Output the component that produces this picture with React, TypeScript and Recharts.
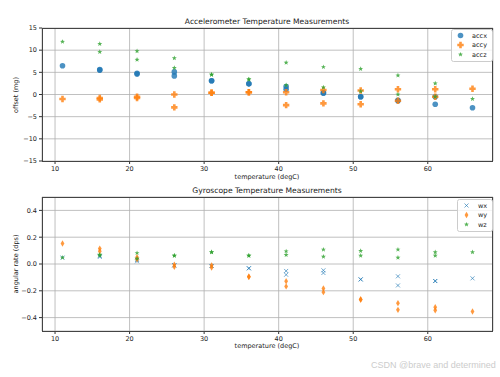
import React from 'react';
import { ScatterChart, Scatter, XAxis, YAxis, CartesianGrid } from 'recharts';

// measurement temperatures (two runs per step, except first/last)
const temps = [11, 16, 16, 21, 21, 26, 26, 31, 31, 36, 36, 41, 41, 46, 46, 51, 51, 56, 56, 61, 61, 66];

// accelerometer offsets (mg)
const accx = [6.5, 5.5, 5.6, 4.6, 4.8, 5.1, 4.2, 3.1, 3.1, 2.4, 2.4, 1.8, 1.2, 0.3, 0.4, -0.5, -0.5, -1.4, -1.3, -0.5, -2.2, -3.0];
const accy = [-1.0, -0.8, -1.1, -0.5, -0.8, 0.0, -2.9, 0.4, 0.4, 0.5, 0.5, 0.5, -2.4, 1.0, -2.0, 0.9, -2.2, 1.2, -1.4, 1.2, -0.5, 1.3];
const accz = [11.9, 11.4, 9.6, 9.8, 7.85, 8.2, 6.0, 4.5, 4.5, 3.4, 3.4, 7.2, 2.1, 6.2, 1.6, 5.8, 0.7, 4.3, 0.0, 2.5, -0.5, -1.0];

// gyroscope angular rate (dps)
const wx = [0.048, 0.053, 0.06, 0.02, 0.03, -0.01, -0.01, -0.015, -0.015, -0.032, -0.032, -0.052, -0.08, -0.047, -0.067, -0.115, -0.115, -0.092, -0.16, -0.127, -0.127, -0.107];
const wy = [0.153, 0.115, 0.095, 0.05, 0.035, -0.005, -0.02, -0.01, -0.027, -0.095, -0.095, -0.128, -0.167, -0.182, -0.21, -0.265, -0.265, -0.292, -0.342, -0.322, -0.345, -0.355];
const wz = [0.048, 0.065, 0.07, 0.082, 0.04, 0.063, 0.063, 0.088, 0.088, 0.063, 0.063, 0.095, 0.068, 0.108, 0.055, 0.098, 0.063, 0.108, 0.048, 0.088, 0.063, 0.088];

const xTicks = [10, 20, 30, 40, 50, 60];
const accTicks = [-15, -10, -5, 0, 5, 10, 15];
const gyroTicks = [-0.4, -0.2, 0.0, 0.2, 0.4];

const BLUE = '#1f77b4';
const ORANGE = '#ff7f0e';
const GREEN = '#2ca02c';
const FONT = '"DejaVu Sans", sans-serif';

const toPoints = (vals: number[]) => vals.map((v, i) => ({ t: temps[i], v }));

const minus = (s: string) => s.replace('-', '\u2212');

// marker shapes, roughly like matplotlib's o, P, *, x, d
const Circle = ({ cx, cy }: any) => <circle cx={cx} cy={cy} r={2.8} fill={BLUE} fillOpacity={0.8} />;

const Plus = ({ cx, cy }: any) => {
  const a = 1.3, b = 3.2;
  const d = `M${cx - a},${cy - b} H${cx + a} V${cy - a} H${cx + b} V${cy + a} H${cx + a} V${cy + b} H${cx - a} V${cy + a} H${cx - b} V${cy - a} H${cx - a} Z`;
  return <path d={d} fill={ORANGE} fillOpacity={0.8} />;
};

const starPath = (cx: number, cy: number, R: number) => {
  const r = R * 0.42;
  let d = '';
  for (let i = 0; i < 10; i++) {
    const rad = i % 2 === 0 ? R : r;
    const ang = -Math.PI / 2 + (i * Math.PI) / 5;
    d += (i === 0 ? 'M' : 'L') + (cx + rad * Math.cos(ang)).toFixed(2) + ',' + (cy + rad * Math.sin(ang)).toFixed(2);
  }
  return d + 'Z';
};

const Star = ({ cx, cy }: any) => <path d={starPath(cx, cy, 2.6)} fill={GREEN} fillOpacity={0.8} />;

const Cross = ({ cx, cy }: any) => (
  <path d={`M${cx - 2},${cy - 2} L${cx + 2},${cy + 2} M${cx - 2},${cy + 2} L${cx + 2},${cy - 2}`} stroke={BLUE} strokeWidth={0.8} strokeOpacity={0.8} />
);

const Diamond = ({ cx, cy }: any) => (
  <path d={`M${cx},${cy - 3.2} L${cx + 1.9},${cy} L${cx},${cy + 3.2} L${cx - 1.9},${cy} Z`} fill={ORANGE} fillOpacity={0.8} />
);

const tickStyle = { fontSize: 6.5, fill: '#222', fontFamily: FONT };

interface PanelProps {
  top: number;
  marginTop: number;
  domain: [number, number];
  yTicks: number[];
  yFmt: (v: number) => string;
  series: { data: number[]; shape: any; name: string }[];
}

function Panel({ top, marginTop, domain, yTicks, yFmt, series }: PanelProps) {
  return (
    <div style={{ position: 'absolute', left: 0, top }}>
      <ScatterChart width={500} height={185} margin={{ top: marginTop, right: 7, left: 0, bottom: 4 }}>
        <CartesianGrid stroke="#b0b0b0" strokeWidth={0.8} />
        <XAxis
          type="number"
          dataKey="t"
          domain={[8.25, 68.75]}
          ticks={xTicks}
          height={20}
          axisLine={false}
          tickSize={3}
          tickLine={{ stroke: '#333' }}
          tick={tickStyle}
          interval={0}
        />
        <YAxis
          type="number"
          dataKey="v"
          domain={domain}
          ticks={yTicks}
          width={42}
          axisLine={false}
          tickSize={3}
          tickLine={{ stroke: '#333' }}
          tick={tickStyle}
          interval={0}
          tickFormatter={(v: number) => minus(yFmt(v))}
        />
        {series.map((s) => (
          <Scatter key={s.name} name={s.name} data={toPoints(s.data)} shape={s.shape} isAnimationActive={false} />
        ))}
      </ScatterChart>
    </div>
  );
}

function Legend({ x, y, w, items, textX }: { x: number; y: number; w: number; items: { name: string; shape: any }[]; textX: number }) {
  return (
    <svg style={{ position: 'absolute', left: x, top: y }} width={w} height={33}>
      <rect x={0.5} y={0.5} width={w - 1} height={32} rx={2} fill="#fff" fillOpacity={0.8} stroke="#ccc" />
      {items.map((it, i) => {
        const cy = 6.5 + i * 9.5;
        const Shape = it.shape;
        return (
          <g key={it.name}>
            <Shape cx={9.5} cy={cy} />
            <text x={textX} y={cy + 2.3} fontSize={6.5} fontFamily={FONT} fill="#222">{it.name}</text>
          </g>
        );
      })}
    </svg>
  );
}

const frame = (top: number, height: number): React.CSSProperties => ({
  position: 'absolute', left: 42, top, width: 451, height, border: '1px solid #444', boxSizing: 'border-box', pointerEvents: 'none',
});

const label = (x: number, y: number, size: number, extra: React.CSSProperties = {}): React.CSSProperties => ({
  position: 'absolute', left: x, top: y, fontSize: size, fontFamily: FONT, color: '#222', whiteSpace: 'nowrap',
  transform: 'translate(-50%, -50%)', ...extra,
});

export default function App() {
  return (
    <div style={{ position: 'absolute', left: 0, top: 0, width: 500, height: 377, background: '#fff', overflow: 'hidden' }}>
      <Panel
        top={0}
        marginTop={28}
        domain={[-15, 15]}
        yTicks={accTicks}
        yFmt={(v) => String(v)}
        series={[
          { data: accx, shape: Circle, name: 'accx' },
          { data: accy, shape: Plus, name: 'accy' },
          { data: accz, shape: Star, name: 'accz' },
        ]}
      />
      <Panel
        top={170}
        marginTop={27}
        domain={[-0.5, 0.5]}
        yTicks={gyroTicks}
        yFmt={(v) => v.toFixed(1)}
        series={[
          { data: wx, shape: Cross, name: 'wx' },
          { data: wy, shape: Diamond, name: 'wy' },
          { data: wz, shape: Star, name: 'wz' },
        ]}
      />
      <div style={frame(28, 134)} />
      <div style={frame(197, 135)} />

      <div style={label(267, 21, 7.6)}>Accelerometer Temperature Measurements</div>
      <div style={label(267, 190, 7.6)}>Gyroscope Temperature Measurements</div>
      <div style={label(267, 177, 6.5)}>temperature (degC)</div>
      <div style={label(267, 346, 6.5)}>temperature (degC)</div>
      <div style={label(16, 95, 6.5, { transform: 'translate(-50%, -50%) rotate(-90deg)' })}>offset (mg)</div>
      <div style={label(16, 264, 6.5, { transform: 'translate(-50%, -50%) rotate(-90deg)' })}>angular rate (dps)</div>

      <Legend
        x={451}
        y={29}
        w={42}
        textX={21}
        items={[
          { name: 'accx', shape: Circle },
          { name: 'accy', shape: Plus },
          { name: 'accz', shape: Star },
        ]}
      />
      <Legend
        x={457}
        y={199}
        w={36}
        textX={21}
        items={[
          { name: 'wx', shape: Cross },
          { name: 'wy', shape: Diamond },
          { name: 'wz', shape: Star },
        ]}
      />

      <div style={{ position: 'absolute', left: 371, top: 360, fontSize: 9, fontFamily: '"Liberation Sans", Arial, sans-serif', color: '#cccccc', whiteSpace: 'nowrap' }}>
        CSDN @brave and determined
      </div>
    </div>
  );
}
